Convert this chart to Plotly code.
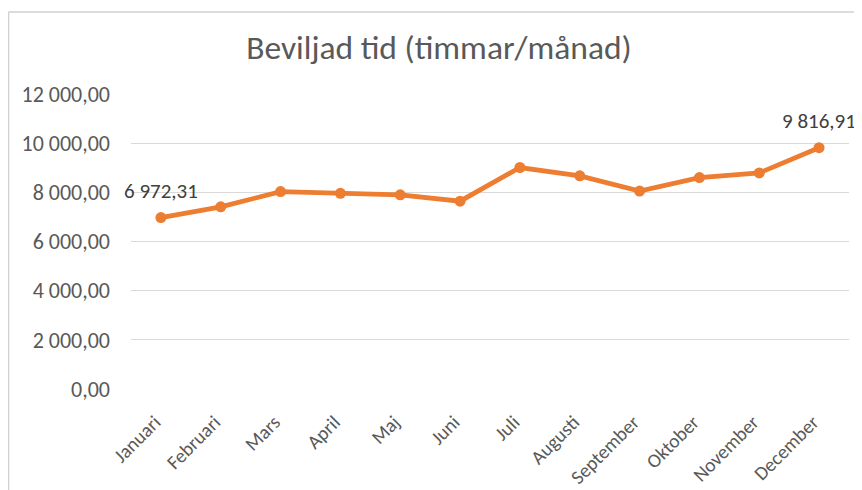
import plotly.graph_objects as go

months = ["Januari", "Februari", "Mars", "April", "Maj", "Juni", "Juli",
          "Augusti", "September", "Oktober", "November", "December"]
hours = [6972.31, 7410, 8030, 7960, 7900, 7640, 9010, 8670, 8050, 8600, 8790, 9816.91]
labelled = [0, 11]
title_text = "Beviljad tid (timmar/månad)"
y_ticks = [0, 2000, 4000, 6000, 8000, 10000, 12000]


def sv(v):
    return f"{v:,.2f}".replace(",", " ").replace(".", ",")


FONT = "Carlito, Open Sans, sans-serif"
ORANGE = "#ED7D31"
GRAY = "#595959"
GRID = "#D9D9D9"

# page has an 8px body margin, so the figure fills the remaining area
W, H = 854, 482
L, R, T, B = 123, 13, 86, 101
pw, ph = W - L - R, H - T - B


def px_x(x):
    return (x - L) / pw


def px_y(y):
    return (H - B - y) / ph


fig = go.Figure()
fig.add_trace(go.Scatter(
    x=months, y=hours, mode="lines+markers",
    line=dict(color=ORANGE, width=4.8),
    marker=dict(color=ORANGE, size=11),
    hoverinfo="skip", showlegend=False,
))

annotations = []
for i in labelled:
    annotations.append(dict(
        x=months[i], y=hours[i], text=sv(hours[i]), showarrow=False,
        yshift=27, font=dict(family=FONT, size=21, color="#404040"),
    ))

shapes = [
    dict(type="line", xref="paper", yref="paper", x0=px_x(0.5), x1=px_x(0.5),
         y0=px_y(4), y1=px_y(490), line=dict(color="#D0D0D0", width=1.5)),
    dict(type="line", xref="paper", yref="paper", x0=px_x(0.5), x1=px_x(870),
         y0=px_y(4), y1=px_y(4), line=dict(color="#D0D0D0", width=1.5)),
]

fig.update_layout(
    width=W, height=H,
    margin=dict(l=L, r=R, t=T, b=B, autoexpand=False),
    paper_bgcolor="white", plot_bgcolor="white",
    separators=", ",
    title=dict(text=title_text, x=431 / W, xanchor="center", xref="container",
               y=1 - 39 / H, yanchor="middle", yref="container",
               font=dict(family=FONT, size=33.5, color=GRAY)),
    xaxis=dict(
        type="category", range=[-0.5, len(months) - 0.5],
        showgrid=False, showline=False, zeroline=False,
        tickangle=-45, ticks="", ticklabelstandoff=17, ticklabelshift=-6,
        automargin=False,
        tickfont=dict(family=FONT, size=19.5, color=GRAY),
    ),
    yaxis=dict(
        range=[0, 12000], tickvals=y_ticks, tickformat=",.2f",
        showgrid=True, gridcolor=GRID, gridwidth=1, zeroline=False,
        showline=False, ticks="", ticklabelstandoff=20, automargin=False,
        tickfont=dict(family=FONT, size=22, color=GRAY),
    ),
    annotations=annotations,
    shapes=shapes,
)

fig.write_html("out.html")
